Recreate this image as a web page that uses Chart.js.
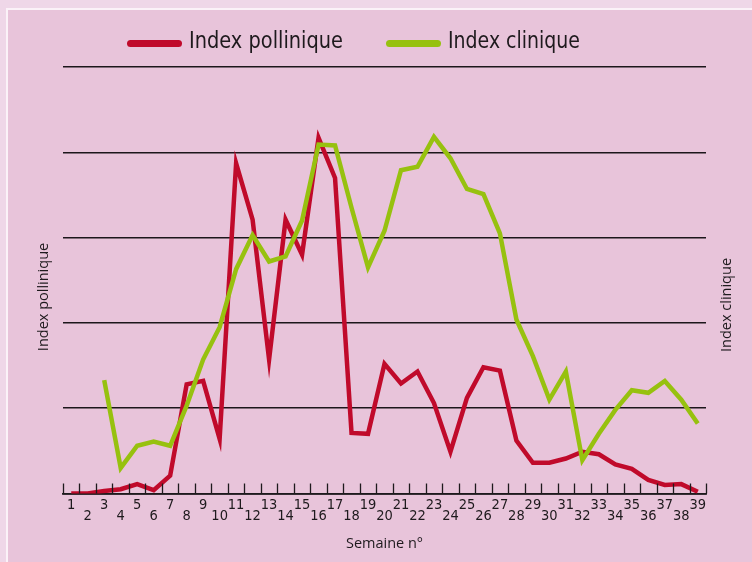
<!DOCTYPE html>
<html>
<head>
<meta charset="utf-8">
<script src="https://cdn.jsdelivr.net/npm/chart.js@4.4.1/dist/chart.umd.min.js"></script>
<style>
  html, body { margin: 0; padding: 0; background: #efd7e8; }
  #frame { position: absolute; left: 6px; top: 8px; right: 0; bottom: 0; border-left: 2px solid #fbf2f8; border-top: 2px solid #fbf2f8; background: #e8c4da; }
  #wrap { position: absolute; left: 0; top: 0; width: 752px; height: 562px; }
</style>
</head>
<body>
<div id="frame"></div>
<div id="wrap"><canvas id="myChart" width="752" height="562"></canvas></div>
<script>
// weeks 1..39
const weeks = ['1','2','3','4','5','6','7','8','9','10','11','12','13','14','15','16','17','18','19','20',
  '21','22','23','24','25','26','27','28','29','30','31','32','33','34','35','36','37','38','39'];

// values, in gridline units (0..5)
const pollinique = [0, 0, 0.03, 0.05, 0.11, 0.04, 0.21, 1.28, 1.32, 0.64,
  3.87, 3.21, 1.57, 3.21, 2.80, 4.17, 3.70, 0.71, 0.70, 1.52,
  1.29, 1.43, 1.06, 0.49, 1.12, 1.48, 1.44, 0.62, 0.36, 0.36,
  0.41, 0.49, 0.46, 0.34, 0.29, 0.16, 0.10, 0.11, 0.02];

const clinique = [null, null, 1.33, 0.30, 0.56, 0.61, 0.56, 1.03, 1.57, 1.95,
  2.63, 3.03, 2.72, 2.78, 3.20, 4.09, 4.08, 3.35, 2.65, 3.08,
  3.79, 3.83, 4.18, 3.93, 3.57, 3.51, 3.05, 2.04, 1.61, 1.10,
  1.43, 0.39, 0.70, 0.98, 1.21, 1.18, 1.32, 1.10, 0.82];

const seriesNames = ['Index pollinique', 'Index clinique'];
const axisTitles = ['Index pollinique', 'Index clinique', 'Semaine n°'];

const RED = '#c00a2b';
const GREEN = '#97c10f';
const INK = '#1e1a1d';
const narrow = '"Liberation Sans Narrow", "DejaVu Sans Condensed", "Roboto", sans-serif';
const plain = '"Open Sans", "Noto Sans", sans-serif';

// legend drawn by hand so it sits where the original one sits
const legendPlugin = {
  id: 'topLegend',
  afterDraw(chart) {
    const ctx = chart.ctx;
    const starts = [127, 386];
    const textW = [154, 132];
    ctx.save();
    chart.data.datasets.forEach((ds, i) => {
      const x = starts[i];
      ctx.strokeStyle = ds.borderColor;
      ctx.lineWidth = 7;
      ctx.lineCap = 'round';
      ctx.beginPath();
      ctx.moveTo(x + 3.5, 43.5);
      ctx.lineTo(x + 51.5, 43.5);
      ctx.stroke();
      ctx.fillStyle = INK;
      ctx.font = '23px ' + narrow;
      ctx.textBaseline = 'middle';
      ctx.fillText(ds.label, x + 62, 42, textW[i]);
    });
    ctx.restore();
  }
};

// small ticks pointing up from the x axis, plus the two vertical titles
const axisPlugin = {
  id: 'axisExtras',
  afterDraw(chart) {
    const ctx = chart.ctx;
    const xs = chart.scales.x;
    const area = chart.chartArea;
    const half = (xs.getPixelForValue(1) - xs.getPixelForValue(0)) / 2;
    ctx.save();
    ctx.strokeStyle = INK;
    ctx.lineWidth = 1.3;
    ctx.beginPath();
    for (let k = 0; k <= weeks.length; k++) {
      const px = Math.round(xs.getPixelForValue(Math.min(k, weeks.length - 1)) + (k < weeks.length ? -half : half)) + 0.5;
      ctx.moveTo(px, area.bottom);
      ctx.lineTo(px, area.bottom - 10);
    }
    ctx.stroke();

    ctx.fillStyle = INK;
    ctx.font = '14.5px ' + plain;
    ctx.textAlign = 'center';
    ctx.textBaseline = 'middle';
    ctx.translate(44, 297);
    ctx.rotate(-Math.PI / 2);
    ctx.fillText(axisTitles[0], 0, 0);
    ctx.restore();

    ctx.save();
    ctx.fillStyle = INK;
    ctx.font = '14.5px ' + plain;
    ctx.textAlign = 'center';
    ctx.textBaseline = 'middle';
    ctx.translate(727, 305);
    ctx.rotate(-Math.PI / 2);
    ctx.fillText(axisTitles[1], 0, 0);
    ctx.restore();
  }
};

const ctx = document.getElementById('myChart');

const chart = new Chart(ctx, {
  type: 'line',
  data: {
    labels: weeks,
    datasets: [
      {
        label: seriesNames[0],
        data: pollinique,
        borderColor: RED,
        backgroundColor: RED,
        borderWidth: 4.5,
        pointRadius: 0,
        tension: 0,
        borderJoinStyle: 'miter',
        order: 2
      },
      {
        label: seriesNames[1],
        data: clinique,
        borderColor: GREEN,
        backgroundColor: GREEN,
        borderWidth: 4.5,
        pointRadius: 0,
        tension: 0,
        borderJoinStyle: 'miter',
        order: 1
      }
    ]
  },
  options: {
    responsive: false,
    animation: false,
    events: [],
    layout: { padding: { top: 67, right: 46, left: 0, bottom: 0 } },
    plugins: {
      legend: { display: false },
      tooltip: { enabled: false }
    },
    scales: {
      x: {
        type: 'category',
        offset: true,
        grid: { display: false, drawTicks: false, offset: true },
        border: { display: true, color: INK, width: 1.8 },
        ticks: {
          autoSkip: false,
          maxRotation: 0,
          minRotation: 0,
          padding: 6,
          color: INK,
          font: { family: narrow, size: 14.5, lineHeight: 0.78 },
          callback: function (value, index) {
            const lbl = this.getLabelForValue(value);
            return index % 2 === 0 ? lbl : ['', lbl];
          }
        },
        title: {
          display: true,
          text: axisTitles[2],
          color: INK,
          font: { family: plain, size: 14.5 },
          padding: { top: 0, bottom: 9 }
        },
        afterFit: (scale) => { scale.height = 68.5; }
      },
      y: {
        min: 0,
        max: 5,
        ticks: { display: false, stepSize: 1 },
        grid: { color: '#1c161b', lineWidth: 1.5, drawTicks: false },
        border: { display: false },
        afterFit: (scale) => { scale.width = 63; }
      }
    }
  },
  plugins: [legendPlugin, axisPlugin]
});
</script>
</body>
</html>
